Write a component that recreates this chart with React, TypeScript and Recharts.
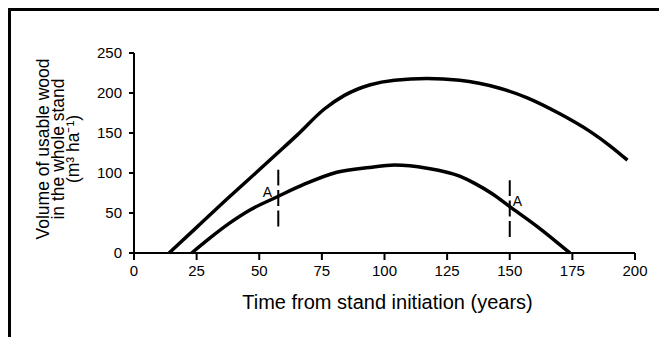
import React from "react";
import {
  LineChart,
  Line,
  XAxis,
  YAxis,
  ReferenceLine,
  ReferenceDot,
} from "recharts";

// upper curve: whole stand
const upperYears = [14, 25, 38, 50, 57, 65, 76, 84, 94, 104, 117, 130, 146, 157, 170, 182, 190, 197];
const upperVol = [0, 32, 70, 104, 124, 147, 180, 197, 210, 216, 218, 216, 206, 194, 174, 152, 134, 116];

// lower curve
const lowerYears = [23, 30, 38, 47, 57, 68, 81, 94, 104, 117, 130, 136, 143, 150, 161, 174];
const lowerVol = [0, 18, 37, 55, 70, 86, 101, 107, 110, 106, 96, 87, 74, 58, 33, 0];

// the two "A" marks (dashed line year, bottom, top; label position)
const markYears = [57.6, 150];
const markLow = [33, 20];
const markHigh = [104, 91];
const markLabelX = [53.3, 153.1];
const markLabelY = [76.6, 65];

const xTicks = [0, 25, 50, 75, 100, 125, 150, 175, 200];
const yTicks = [0, 50, 100, 150, 200, 250];

const yLabelLines = ["Volume of usable wood", "in the whole stand", "(m³ ha⁻¹)"];
const xLabelText = "Time from stand initiation (years)";

const font = "'Liberation Sans', Arial, sans-serif";

const upperData = upperYears.map((t, i) => ({ year: t, vol: upperVol[i] }));
const lowerData = lowerYears.map((t, i) => ({ year: t, vol: lowerVol[i] }));

const YLabel = (props: any) => {
  const vb = props.viewBox;
  const cy = vb.y + vb.height / 2 - 4;
  const x0 = vb.x - 25.5;
  const gaps = [0, 15, 30];
  return (
    <g>
      {yLabelLines.map((s, i) => {
        const x = x0 + gaps[i];
        return (
          <text
            key={i}
            x={x}
            y={cy}
            transform={`rotate(-90, ${x}, ${cy})`}
            textAnchor="middle"
            fontFamily={font}
            fontSize={17.5}
            fill="#000"
          >
            {s}
          </text>
        );
      })}
    </g>
  );
};

const XLabel = (props: any) => {
  const vb = props.viewBox;
  return (
    <text
      x={vb.x + vb.width / 2 + 3}
      y={vb.y + 56}
      textAnchor="middle"
      fontFamily={font}
      fontSize={20}
      fill="#000"
    >
      {xLabelText}
    </text>
  );
};

export default function App() {
  const axisStyle = { stroke: "#000", strokeWidth: 2 };
  const tickStyle = { fill: "#000", fontSize: 15, fontFamily: font };
  return (
    <div
      style={{
        borderTop: "3px solid #000",
        borderLeft: "3px solid #000",
        width: 650,
        height: 340,
      }}
    >
      <style>{"body{overflow:hidden}"}</style>
      <LineChart width={650} height={320} margin={{ top: 42, right: 26, bottom: 18, left: 63 }}>
        <XAxis
          type="number"
          dataKey="year"
          domain={[0, 200]}
          ticks={xTicks}
          interval={0}
          height={60}
          axisLine={axisStyle}
          tickLine={axisStyle}
          tickSize={7}
          tickMargin={5}
          tick={tickStyle}
          label={<XLabel />}
        />
        <YAxis
          type="number"
          domain={[0, 250]}
          ticks={yTicks}
          interval={0}
          width={60}
          axisLine={axisStyle}
          tickLine={axisStyle}
          tickSize={5}
          tickMargin={7}
          tick={tickStyle}
          label={<YLabel />}
        />
        <Line
          data={upperData}
          dataKey="vol"
          type="monotone"
          stroke="#000"
          strokeWidth={3.5}
          dot={false}
          isAnimationActive={false}
        />
        <Line
          data={lowerData}
          dataKey="vol"
          type="monotone"
          stroke="#000"
          strokeWidth={3.5}
          dot={false}
          isAnimationActive={false}
        />
        {markYears.map((t, i) => (
          <ReferenceLine
            key={"l" + i}
            segment={[
              { x: t, y: markLow[i] },
              { x: t, y: markHigh[i] },
            ]}
            stroke="#000"
            strokeWidth={2}
            strokeDasharray="16 4.5"
          />
        ))}
        {markYears.map((t, i) => (
          <ReferenceDot
            key={"a" + i}
            x={markLabelX[i]}
            y={markLabelY[i]}
            r={1}
            fill="none"
            stroke="none"
            label={{ value: "A", position: "center", fill: "#000", fontSize: 14, fontFamily: font }}
          />
        ))}
      </LineChart>
    </div>
  );
}
